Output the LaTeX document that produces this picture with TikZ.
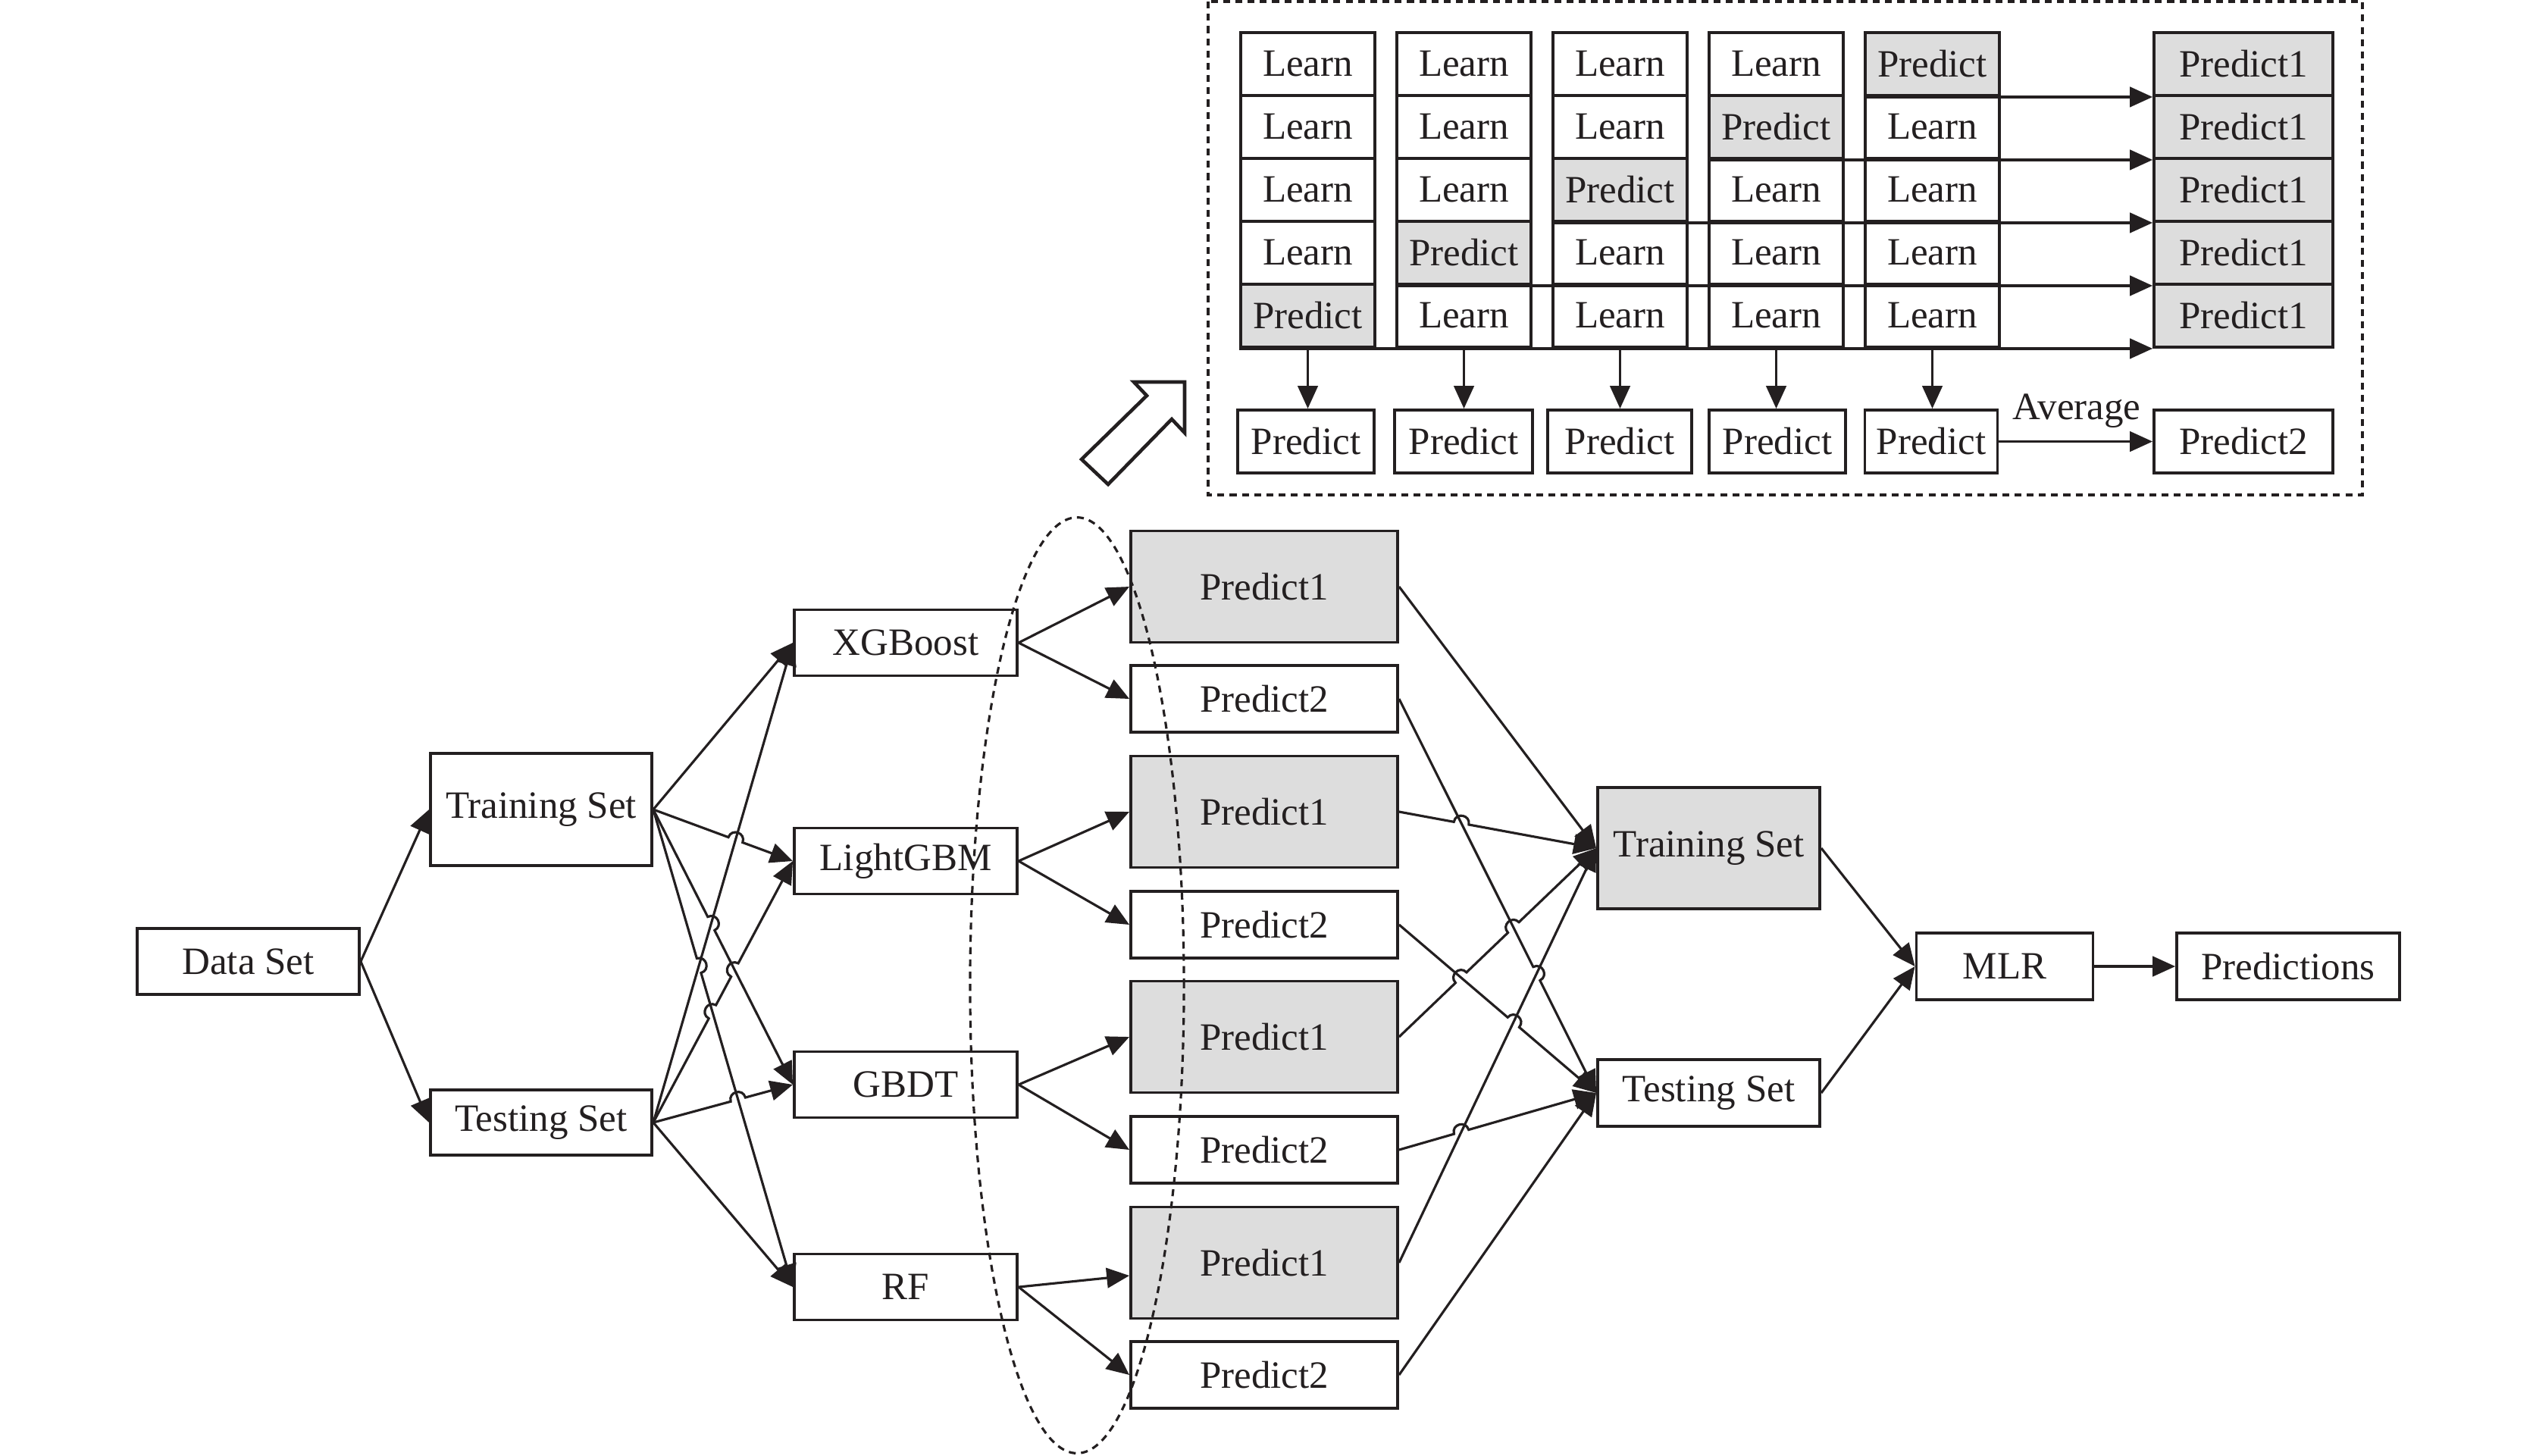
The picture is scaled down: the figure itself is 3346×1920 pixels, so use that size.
\documentclass[tikz,border=0pt]{standalone}
\usepackage{fontspec}
\setmainfont{Liberation Serif}
\usetikzlibrary{arrows.meta,calc,intersections}
\definecolor{ink}{RGB}{35,31,32}
\definecolor{lgray}{RGB}{221,221,221}
% connector from #1 to #2 that jumps over the crossings named in #3 (in travel order)
\newcommand\hopline[3]{%
  \draw[con] (#1) \foreach \h in {#3}{
    -- ($(\h)!0.1cm!(#1)$)
    .. controls ($(\h)!0.1cm!(#1)!0.1333cm!90:(\h)$) and ($(\h)!0.1cm!(#2)!0.1333cm!-90:(\h)$)
    .. ($(\h)!0.1cm!(#2)$)
  } -- (#2);}
\begin{document}
\begin{tikzpicture}[x=0.01cm,y=-0.01cm,
  box/.style={draw=ink,line width=1.1pt,fill=white,inner sep=0pt,text=ink,font=\fontsize{14.5}{17}\selectfont},
  gbox/.style={box,fill=lgray},
  sz/.style 2 args={minimum width=#1*0.01cm,minimum height=#2*0.01cm},
  con/.style={draw=ink,line width=0.9pt,-{Triangle[length=8.5pt,width=7.5pt]}},
  dsh/.style={draw=ink,line width=0.9pt,dash pattern=on 2.6pt off 2pt}]
\useasboundingbox (0,0) rectangle (3346,1920);

% ---------- upper cross-validation panel ----------
\draw[dsh] (1594,2) rectangle (3117,653);
\foreach \c in {0,...,4}{
  \foreach \r in {0,...,4}{
    \pgfmathtruncatemacro\s{4-\c}
    \ifnum\r=\s
      \node[gbox,sz={177}{83}] (g-\c-\r) at ({1725.5+206*\c},{84.5+83*\r}) {Predict};
    \else
      \node[box,sz={177}{83}] (g-\c-\r) at ({1725.5+206*\c},{84.5+83*\r}) {Learn};
    \fi
  }
}
\foreach \r in {0,...,4}{
  \node[gbox,sz={236}{83}] (R-\r) at (2960,{84.5+83*\r}) {Predict1};
}
\foreach \c/\x/\w in {0/1723/180,1/1931/182,2/2137/190,3/2345/180,4/2548/175}{
  \node[box,sz={\w}{83}] (B-\c) at (\x,582.5) {Predict};
}
\node[box,sz={236}{83}] (P2) at (2960,582.5) {Predict2};
\foreach \r in {0,...,4}{
  \pgfmathtruncatemacro\c{4-\r}
  \draw[con] (g-\c-\r.south west) -- (R-\r.south west);
}
\foreach \c in {0,...,4}{
  \draw[con] (g-\c-4.south) -- (g-\c-4.south |- B-\c.north);
}
\draw[con] (B-4.east) -- (P2.west);
\node[text=ink,font=\fontsize{14.5}{17}\selectfont,anchor=base,inner sep=0pt] (avg) at (2740,553) {Average};

% hollow arrow
\draw[draw=ink,line width=1.3pt,fill=white,line join=miter]
  (1563,504) -- (1496,504) -- (1513,522) -- (1427,606) -- (1462,639) -- (1546,553) -- (1563,571) -- cycle;

% ---------- main flow ----------
\node[box,sz={293}{87}] (data) at (327.5,1268.5) {Data Set};
\node[box,sz={292}{148}] (trL) at (714,1068) {Training Set};
\node[box,sz={292}{86}] (teL) at (714,1481) {Testing Set};

\node[box,sz={294}{87}] (xgb) at (1195,848) {XGBoost};
\node[box,sz={294}{87}] (lgbm) at (1195,1136) {LightGBM};
\node[box,sz={294}{87}] (gbdt) at (1195,1431) {GBDT};
\node[box,sz={294}{87}] (rf) at (1195,1698) {RF};

\node[gbox,sz={352}{147}] (pa1) at (1668,774) {Predict1};
\node[box,sz={352}{88}] (pb1) at (1668,922) {Predict2};
\node[gbox,sz={352}{147}] (pa2) at (1668,1071) {Predict1};
\node[box,sz={352}{88}] (pb2) at (1668,1220) {Predict2};
\node[gbox,sz={352}{147}] (pa3) at (1668,1368) {Predict1};
\node[box,sz={352}{88}] (pb3) at (1668,1517) {Predict2};
\node[gbox,sz={352}{147}] (pa4) at (1668,1666) {Predict1};
\node[box,sz={352}{88}] (pb4) at (1668,1814) {Predict2};

\node[gbox,sz={293}{160}] (trR) at (2254.5,1119) {Training Set};
\node[box,sz={293}{88}] (teR) at (2254.5,1442) {Testing Set};
\node[box,sz={233}{88}] (mlr) at (2645,1275) {MLR};
\node[box,sz={294}{88}] (pred) at (3019,1275) {Predictions};

% crossing points
\path[name path=La2] (trL.east) -- (lgbm.west);
\path[name path=La3] (trL.east) -- (gbdt.west);
\path[name path=La4] (trL.east) -- (rf.west);
\path[name path=Lb1] (teL.east) -- (xgb.west);
\path[name path=Lb2] (teL.east) -- (lgbm.west);
\path[name path=Lb3] (teL.east) -- (gbdt.west);
\path[name intersections={of=La2 and Lb1,by=xa2b1}];
\path[name intersections={of=La3 and Lb1,by=xa3b1}];
\path[name intersections={of=La4 and Lb1,by=xa4b1}];
\path[name intersections={of=Lb2 and La3,by=xb2a3}];
\path[name intersections={of=Lb2 and La4,by=xb2a4}];
\path[name intersections={of=Lb3 and La4,by=xb3a4}];

\path[name path=Lc2] (pa2.east) -- (trR.west);
\path[name path=Lc3] (pa3.east) -- (trR.west);
\path[name path=Lc4] (pa4.east) -- (trR.west);
\path[name path=Ld1] (pb1.east) -- (teR.west);
\path[name path=Ld2] (pb2.east) -- (teR.west);
\path[name path=Ld3] (pb3.east) -- (teR.west);
\path[name intersections={of=Lc2 and Ld1,by=xc2d1}];
\path[name intersections={of=Lc3 and Ld1,by=xc3d1}];
\path[name intersections={of=Lc3 and Ld2,by=xc3d2}];
\path[name intersections={of=Ld1 and Lc4,by=xd1c4}];
\path[name intersections={of=Ld2 and Lc4,by=xd2c4}];
\path[name intersections={of=Ld3 and Lc4,by=xd3c4}];

\draw[con] (data.east) -- (trL.west);
\draw[con] (data.east) -- (teL.west);
\draw[con] (trL.east) -- (xgb.west);
\hopline{trL.east}{lgbm.west}{xa2b1}
\hopline{trL.east}{gbdt.west}{xa3b1}
\hopline{trL.east}{rf.west}{xa4b1}
\draw[con] (teL.east) -- (xgb.west);
\hopline{teL.east}{lgbm.west}{xb2a4,xb2a3}
\hopline{teL.east}{gbdt.west}{xb3a4}
\draw[con] (teL.east) -- (rf.west);

\draw[con] (xgb.east) -- (pa1.west);
\draw[con] (xgb.east) -- (pb1.west);
\draw[con] (lgbm.east) -- (pa2.west);
\draw[con] (lgbm.east) -- (pb2.west);
\draw[con] (gbdt.east) -- (pa3.west);
\draw[con] (gbdt.east) -- (pb3.west);
\draw[con] (rf.east) -- ($(pa4.west)+(0,17)$);
\draw[con] (rf.east) -- (pb4.west);

\draw[con] (pa1.east) -- (trR.west);
\hopline{pa2.east}{trR.west}{xc2d1}
\hopline{pa3.east}{trR.west}{xc3d2,xc3d1}
\draw[con] (pa4.east) -- (trR.west);
\hopline{pb1.east}{teR.west}{xd1c4}
\hopline{pb2.east}{teR.west}{xd2c4}
\hopline{pb3.east}{teR.west}{xd3c4}
\draw[con] (pb4.east) -- (teR.west);

\draw[con] (trR.east) -- (mlr.west);
\draw[con] (teR.east) -- (mlr.west);
\draw[con] (mlr.east) -- (pred.west);

% dashed ellipse
\draw[dsh] (1421,1300) ellipse [x radius=1.41cm, y radius=6.17cm];
\end{tikzpicture}
\end{document}
